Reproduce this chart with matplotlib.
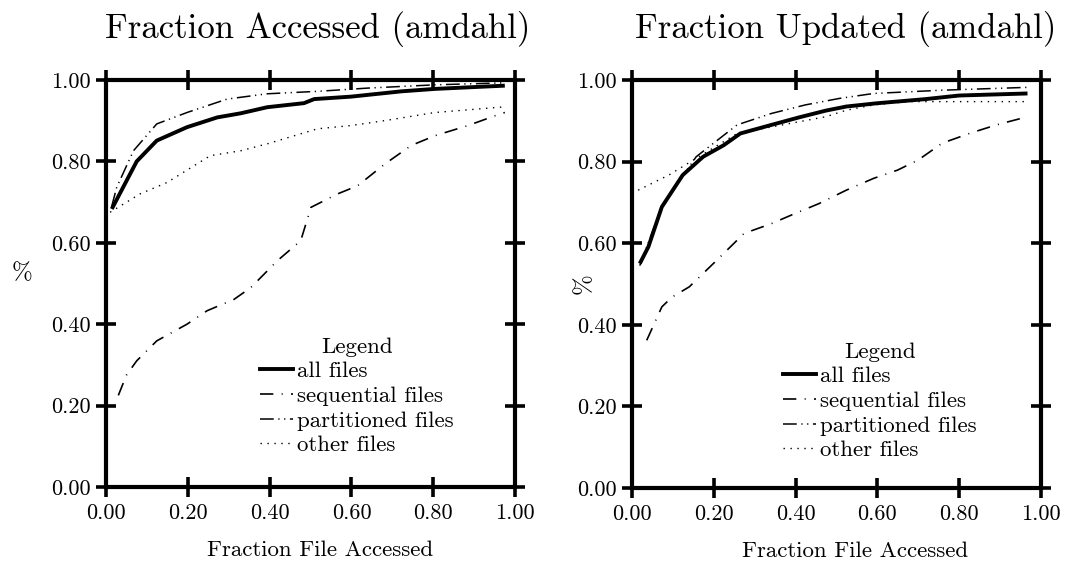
import matplotlib
matplotlib.use("Agg")
import matplotlib.pyplot as plt
from matplotlib.lines import Line2D

plt.rcParams["font.family"] = ["cmr10", "DejaVu Serif"]
plt.rcParams["axes.formatter.use_mathtext"] = True

# ---- Fraction Accessed ----
acc_all_x = [0.014, 0.075, 0.124, 0.198, 0.272, 0.329, 0.394, 0.484, 0.509, 0.599, 0.722, 0.804, 0.975]
acc_all_y = [0.683, 0.800, 0.851, 0.884, 0.908, 0.918, 0.933, 0.943, 0.953, 0.959, 0.972, 0.978, 0.986]
acc_seq_x = [0.030, 0.050, 0.075, 0.124, 0.198, 0.247, 0.313, 0.354, 0.419, 0.476, 0.501,
             0.566, 0.615, 0.681, 0.746, 0.804, 0.885, 0.951, 0.975]
acc_seq_y = [0.225, 0.275, 0.310, 0.359, 0.400, 0.433, 0.461, 0.490, 0.556, 0.605, 0.687,
             0.720, 0.740, 0.793, 0.839, 0.863, 0.888, 0.912, 0.920]
acc_part_x = [0.014, 0.026, 0.067, 0.124, 0.198, 0.296, 0.394, 0.517, 0.640, 0.804, 0.975]
acc_part_y = [0.690, 0.736, 0.826, 0.892, 0.920, 0.953, 0.966, 0.972, 0.980, 0.988, 0.993]
acc_oth_x = [0.010, 0.083, 0.149, 0.255, 0.329, 0.394, 0.517, 0.599, 0.681, 0.804, 0.975]
acc_oth_y = [0.675, 0.720, 0.748, 0.814, 0.826, 0.843, 0.880, 0.888, 0.900, 0.920, 0.934]

# ---- Fraction Updated ----
upd_all_x = [0.019, 0.040, 0.073, 0.124, 0.174, 0.224, 0.265, 0.341, 0.407, 0.474, 0.524,
             0.599, 0.716, 0.800, 0.967]
upd_all_y = [0.550, 0.591, 0.689, 0.767, 0.812, 0.840, 0.869, 0.890, 0.908, 0.925, 0.935,
             0.943, 0.953, 0.962, 0.967]
upd_seq_x = [0.036, 0.073, 0.098, 0.140, 0.207, 0.274, 0.341, 0.399, 0.457, 0.524, 0.591,
             0.649, 0.700, 0.758, 0.825, 0.891, 0.967]
upd_seq_y = [0.362, 0.444, 0.468, 0.493, 0.558, 0.624, 0.648, 0.673, 0.697, 0.730, 0.759,
             0.779, 0.804, 0.845, 0.869, 0.890, 0.910]
upd_part_x = [0.019, 0.073, 0.157, 0.257, 0.341, 0.424, 0.508, 0.591, 0.758, 0.967]
upd_part_y = [0.545, 0.690, 0.812, 0.890, 0.918, 0.939, 0.955, 0.967, 0.975, 0.982]
upd_oth_x = [0.015, 0.090, 0.157, 0.257, 0.341, 0.474, 0.524, 0.591, 0.674, 0.967]
upd_oth_y = [0.730, 0.767, 0.808, 0.869, 0.885, 0.910, 0.926, 0.939, 0.947, 0.947]

ticks = [0.0, 0.2, 0.4, 0.6, 0.8, 1.0]
tick_labels = ["0.00", "0.20", "0.40", "0.60", "0.80", "1.00"]
series_names = ["all files", "sequential files", "partitioned files", "other files"]

# estilos das curvas: largura e padrão de traço
STYLES = [
    dict(lw=2.8, linestyle="-"),
    dict(lw=1.2, linestyle=(0, (8, 5, 0.6, 5))),
    dict(lw=1.1, linestyle=(0, (9, 3, 0.8, 3, 0.8, 3))),
    dict(lw=1.0, linestyle=(0, (1, 4))),
]


def desenhar(ax, curvas, titulo, title_x, xlabel_x, ylabel_pos, ylabel_rot, leg_anchor):
    for (x, y), st in zip(curvas, STYLES):
        ax.plot(x, y, color="black", solid_capstyle="butt", **st)
    ax.set_xlim(0, 1)
    ax.set_ylim(0, 1)
    ax.set_xticks(ticks)
    ax.set_yticks(ticks)
    ax.set_xticklabels(tick_labels, fontsize=16)
    ax.set_yticklabels(tick_labels, fontsize=16)
    ax.tick_params(direction="inout", length=14, width=2.6, top=True, right=True,
                   color="black")
    ax.tick_params(axis="y", pad=4)
    ax.tick_params(axis="x", pad=5)
    for sp in ax.spines.values():
        sp.set_linewidth(3.0)

    ax.set_title(titulo, fontsize=25, x=title_x, y=1.103, pad=0, va="baseline")
    ax.set_xlabel("Fraction File Accessed", fontsize=16.5, va="baseline")
    ax.xaxis.set_label_coords(xlabel_x, -0.170)
    ax.set_ylabel("%", fontsize=18, rotation=ylabel_rot, va="center", ha="center")
    ax.yaxis.set_label_coords(*ylabel_pos)

    handles = [Line2D([], [], color="black", **st) for st in STYLES]
    ax.legend(handles, series_names, title="Legend", frameon=False,
              loc="upper left", bbox_to_anchor=leg_anchor, borderpad=0, borderaxespad=0,
              fontsize=16.5, title_fontsize=16.5, handlelength=1.45,
              handletextpad=0.17, labelspacing=0.2)


fig = plt.figure(figsize=(10.69, 5.63), dpi=100)
ax1 = fig.add_axes([0.0992, 0.1350, 0.3826, 0.7230])
ax2 = fig.add_axes([0.5912, 0.1332, 0.3826, 0.7247])

desenhar(ax1,
         [(acc_all_x, acc_all_y), (acc_seq_x, acc_seq_y),
          (acc_part_x, acc_part_y), (acc_oth_x, acc_oth_y)],
         "Fraction Accessed (amdahl)", 0.518, 0.523, (-0.205, 0.526), 0, (0.3765, 0.368))
desenhar(ax2,
         [(upd_all_x, upd_all_y), (upd_seq_x, upd_seq_y),
          (upd_part_x, upd_part_y), (upd_oth_x, upd_oth_y)],
         "Fraction Updated (amdahl)", 0.523, 0.545, (-0.117, 0.502), 90, (0.369, 0.3575))

fig.savefig("out.png", dpi=100)
